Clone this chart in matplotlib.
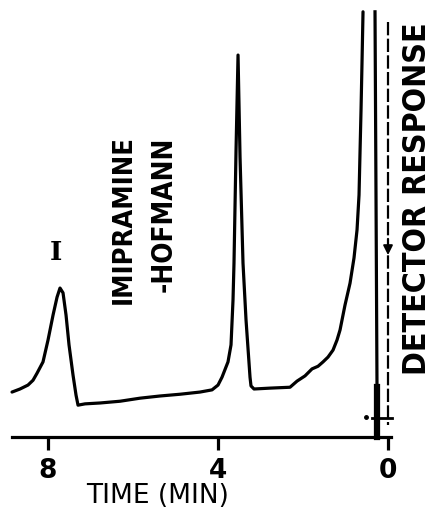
import matplotlib
matplotlib.use("Agg")
import matplotlib.pyplot as plt

# ---- data (time in min, detector response in arbitrary units) ----
trace_time = [8.847, 8.659, 8.471, 8.353, 8.259, 8.118, 8.0, 7.882, 7.788, 7.718,
              7.647, 7.576, 7.506, 7.412, 7.341, 7.294, 7.129, 6.776, 6.306, 5.835,
              5.365, 4.894, 4.424, 4.141, 4.0, 3.906, 3.765, 3.694, 3.647, 3.624,
              3.576, 3.529, 3.482, 3.412, 3.341, 3.247, 3.224, 3.153, 2.776, 2.306,
              2.141, 1.953, 1.788, 1.647, 1.529, 1.412, 1.294, 1.2, 1.129, 1.012,
              0.894, 0.8, 0.729, 0.682, 0.659, 0.635, 0.612, 0.588]
trace_resp = [10.3, 11.0, 11.9, 13.0, 14.6, 17.2, 22.2, 27.9, 32.0, 34.1,
              33.0, 27.9, 21.1, 14.2, 9.6, 7.3, 7.6, 7.8, 8.2, 8.9,
              9.4, 9.8, 10.3, 10.8, 11.9, 13.7, 17.2, 21.1, 31.4, 39.8,
              65.7, 87.4, 64.1, 39.8, 26.8, 13.7, 11.7, 11.0, 11.2, 11.4,
              12.8, 14.0, 15.6, 16.2, 17.2, 18.3, 19.9, 22.2, 24.5, 30.2,
              35.2, 41.0, 47.4, 55.4, 65.0, 74.8, 85.6, 97.3]

solvent_time = [0.306, 0.282, 0.259, 0.259]
solvent_resp = [97.3, 54.2, 11.4, 0.0]

inject_time = [0.0, 0.0]
inject_resp = [95.0, 2.7]

tick_values = [8, 4, 0]
tick_labels = ["8", "4", "0"]

# ---- figure ----
fig = plt.figure(figsize=(4.39, 5.13), dpi=100)
ax = fig.add_axes([0.0271, 0.148, 0.8645, 0.852])
ax.set_xlim(8.85, -0.08)
ax.set_ylim(0, 100)

lw = 2.3
ax.plot(trace_time, trace_resp, color="black", lw=lw, solid_capstyle="round",
        solid_joinstyle="round", clip_on=False)
ax.plot(solvent_time[:3], solvent_resp[:3], color="black", lw=lw, clip_on=False)
ax.plot(solvent_time[2:], solvent_resp[2:], color="black", lw=4.5, clip_on=False)

# dashed injection line with arrow
ax.plot(inject_time, inject_resp, color="black", lw=1.6, ls=(0, (6, 1.5)), clip_on=False)
ax.annotate("", xy=(0.0, 41.0), xytext=(0.0, 46.0),
            arrowprops=dict(arrowstyle="-|>", color="black", lw=1.4,
                            mutation_scale=14))
ax.plot([0.376, -0.094], [4.3, 4.3], color="black", lw=2.0, clip_on=False)
ax.plot([0.518], [4.5], marker="o", ms=2.5, color="black", clip_on=False)

# axes styling
for s in ["top", "left", "right"]:
    ax.spines[s].set_visible(False)
ax.spines["bottom"].set_linewidth(2.3)
ax.set_yticks([])
ax.set_xticks(tick_values)
ax.set_xticklabels(tick_labels, fontsize=19, fontweight="bold",
                   family="DejaVu Sans")
ax.tick_params(axis="x", direction="out", length=9, width=2.3, pad=6)

cond = dict(family="DejaVu Sans", fontweight="bold", fontstretch="condensed")
ax.text(6.212, 49.7, "IMIPRAMINE", rotation=90, ha="center", va="center",
        fontsize=19.5, **cond)
ax.text(5.271, 51.0, "-HOFMANN", rotation=90, ha="center", va="center",
        fontsize=20, **cond)
ax.text(7.81, 42.3, "I", ha="center", va="center", fontsize=19,
        fontweight="bold", family="DejaVu Serif")

fig.text(0.952, 0.612, "DETECTOR RESPONSE", rotation=90, ha="center",
         va="center", fontsize=23, **cond)
fig.text(0.36, 0.033, "TIME (MIN)", ha="center", va="center", fontsize=19,
         family="DejaVu Sans")

fig.savefig("out.png", dpi=100)
